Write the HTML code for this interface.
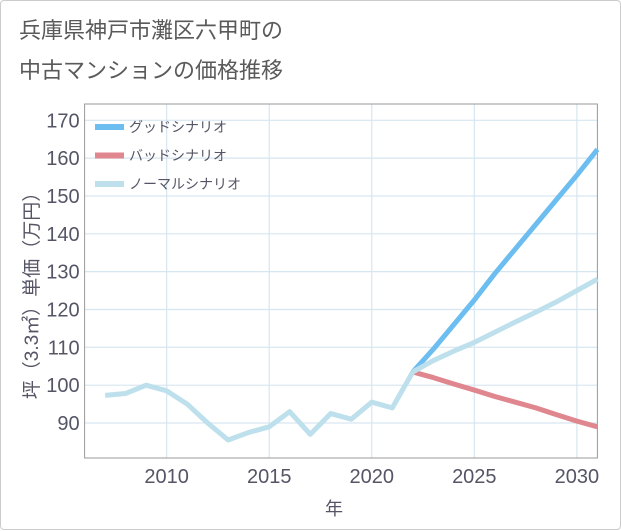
<!DOCTYPE html>
<html><head><meta charset="utf-8"><style>
body{margin:0;background:#fff}
#wrap{position:relative;width:619px;height:528px;border:1px solid #ccc;border-radius:4px;background:#fff;font-family:"Liberation Sans","Noto Sans CJK JP",sans-serif}
#title{position:absolute;left:18px;top:10px;font-size:22px;line-height:40px;color:#5a5a5a}
svg{position:absolute;left:0;top:0}
</style></head><body>
<div id="wrap">
<div id="title">兵庫県神戸市灘区六甲町の<br>中古マンションの価格推移</div>
<svg id="chart" width="621" height="530"></svg>
</div>
<script>
const histYears=[2007,2008,2009,2010,2011,2012,2013,2014,2015,2016,2017,2018,2019,2020,2021,2022];
const histValues=[97.3,97.8,100,98.5,95,90,85.5,87.5,89,93,87,92.5,91,95.5,94,103.5];
const futYears=[2022,2023,2024,2025,2026,2027,2028,2029,2030,2031];
const goodValues=[103.5,109.5,116,122.5,129.5,136,142.5,149,155.5,162.3];
const badValues=[103.5,102,100.3,98.7,97,95.5,94,92.2,90.5,89];
const normalValues=[103.5,106.5,109,111.3,114,116.7,119.3,122,125,128];
const yTicks=[90,100,110,120,130,140,150,160,170];
const xTicks=[2010,2015,2020,2025,2030];
const legendLabels=["グッドシナリオ","バッドシナリオ","ノーマルシナリオ"];
const colors=["#6cbdf0","#e0868e","#bde0ec"];

const L=83.6,R=596.4,T=103,B=457;
const x=v=>L+(v-2006)/(2031-2006)*(R-L);
const y=v=>422-(v-90)*(422-119.3)/80;
const svg=document.getElementById('chart');
const NS='http://www.w3.org/2000/svg';
function mk(t,a,p){const e=document.createElementNS(NS,t);for(const k in a)e.setAttribute(k,a[k]);(p||svg).appendChild(e);return e;}
yTicks.forEach(v=>{const l=mk('line',{x1:L,x2:R,y1:y(v),y2:y(v),stroke:'#d6e6f0','stroke-width':1.2});

const t=mk('text',{x:L-5,y:y(v)+7,'text-anchor':'end','font-size':20,fill:'#556'});t.textContent=v;
});
xTicks.forEach(v=>{const l=mk('line',{x1:x(v),x2:x(v),y1:T,y2:B,stroke:'#d6e6f0','stroke-width':1.2});

const t=mk('text',{x:x(v),y:B+25,'text-anchor':'middle','font-size':20,fill:'#556'});t.textContent=v;
});
const fr=mk('path',{d:`M${L},${T}H${R}V${B}H${L}Z`,fill:'none',stroke:'#999','stroke-width':1});

function line(xs,vs,c,name){const p=mk('polyline',{points:xs.map((a,i)=>x(a)+','+y(vs[i])).join(' '),fill:'none',stroke:c,'stroke-width':5,'stroke-linejoin':'round'});
}
line(futYears,goodValues,colors[0],'good-scenario-line');
line(futYears,badValues,colors[1],'bad-scenario-line');
line(futYears,normalValues,colors[2],'normal-scenario-line');
line(histYears,histValues,colors[2],'historical-line');
legendLabels.forEach((s,i)=>{const yy=126+i*28.5;
const l=mk('line',{x1:94,x2:123,y1:yy,y2:yy,stroke:colors[i],'stroke-width':6});

const t=mk('text',{x:128,y:yy+5,'font-size':14,fill:'#556'});t.textContent=s;
});
const yt=mk('text',{transform:'translate(37,290) rotate(-90)','text-anchor':'middle','font-size':19,fill:'#556'});yt.textContent='坪（3.3㎡）単価（万円）';

const xt=mk('text',{x:333,y:514,'text-anchor':'middle','font-size':18,fill:'#556'});xt.textContent='年';

</script>
</body></html>
